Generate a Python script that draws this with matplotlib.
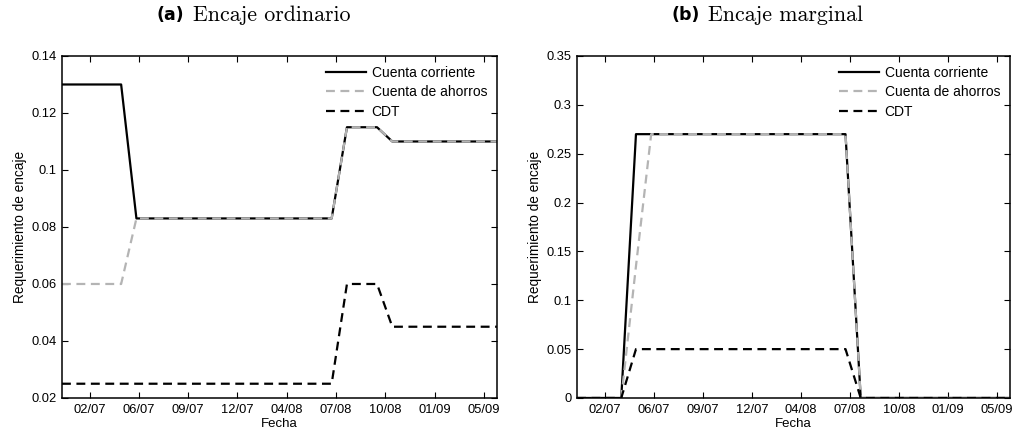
import matplotlib
matplotlib.use("Agg")
import matplotlib.pyplot as plt
import pandas as pd

# --- datos (mensuales, ene-2007 a jun-2009) ---
fechas = pd.date_range("2007-01-01", periods=30, freq="MS")

# encaje ordinario
ord_corriente = [0.13] * 5 + [0.083] * 14 + [0.115] * 3 + [0.11] * 8
ord_ahorros = [0.06] * 5 + [0.083] * 14 + [0.115] * 3 + [0.11] * 8
ord_cdt = [0.025] * 19 + [0.06] * 3 + [0.045] * 8

# encaje marginal
mar_corriente = [0.0] * 4 + [0.27] * 15 + [0.0] * 11
mar_ahorros = [0.0] * 4 + [0.135] + [0.27] * 14 + [0.0] * 11
mar_cdt = [0.0] * 4 + [0.05] * 15 + [0.0] * 11

ticks_fecha = pd.date_range("2007-02-26", periods=9, freq="100D")
etiquetas = [d.strftime("%m/%y") for d in ticks_fecha]

GRIS = "#b4b4b4"
plt.rcParams["font.family"] = ["Liberation Sans", "DejaVu Sans"]

fig = plt.figure(figsize=(10.16, 4.34), dpi=100)
ax1 = fig.add_axes([0.061, 0.083, 0.428, 0.788])
ax2 = fig.add_axes([0.568, 0.083, 0.426, 0.788])


def dibujar(ax, corriente, ahorros, cdt, ylim, yticks):
    ax.plot(fechas, corriente, color="black", lw=1.6, label="Cuenta corriente")
    ax.plot(fechas, ahorros, color=GRIS, lw=1.6, dashes=(4, 2.5), label="Cuenta de ahorros")
    ax.plot(fechas, cdt, color="black", lw=1.6, dashes=(4, 2.5), label="CDT")
    ax.set_xlim(fechas[0], fechas[-1])
    ax.set_ylim(*ylim)
    ax.set_yticks(yticks)
    ax.set_yticklabels([f"{v:g}" for v in yticks])
    ax.set_xticks(ticks_fecha)
    ax.set_xticklabels(etiquetas)
    ax.tick_params(direction="in", top=True, right=True, length=4, width=0.8,
                   labelsize=9.3, pad=4)
    for s in ax.spines.values():
        s.set_linewidth(1.1)
    ax.set_xlabel("Fecha", fontsize=9.5, labelpad=1.5)
    ax.set_ylabel("Requerimiento de encaje", fontsize=9.8, labelpad=3)
    ax.legend(loc="upper right", frameon=False, fontsize=10, handlelength=2.9,
              labelspacing=0.4, borderaxespad=0.3, handletextpad=0.4)


dibujar(ax1, ord_corriente, ord_ahorros, ord_cdt, (0.02, 0.14),
        [0.02, 0.04, 0.06, 0.08, 0.1, 0.12, 0.14])
dibujar(ax2, mar_corriente, mar_ahorros, mar_cdt, (0, 0.35),
        [0, 0.05, 0.1, 0.15, 0.2, 0.25, 0.3, 0.35])

# titulos: "(a)" en negrita sans, resto en serif
for x_letra, letra, texto in [(0.154, "(a)", "Encaje ordinario"),
                              (0.661, "(b)", "Encaje marginal")]:
    fig.text(x_letra, 0.966, letra, ha="left", va="center", fontsize=12.5,
             fontweight="bold", family=["DejaVu Sans"])
    fig.text(x_letra + 0.036, 0.966, texto, ha="left", va="center", fontsize=15.8,
             family=["cmr10", "DejaVu Serif"])

fig.savefig("out.png", dpi=100)
